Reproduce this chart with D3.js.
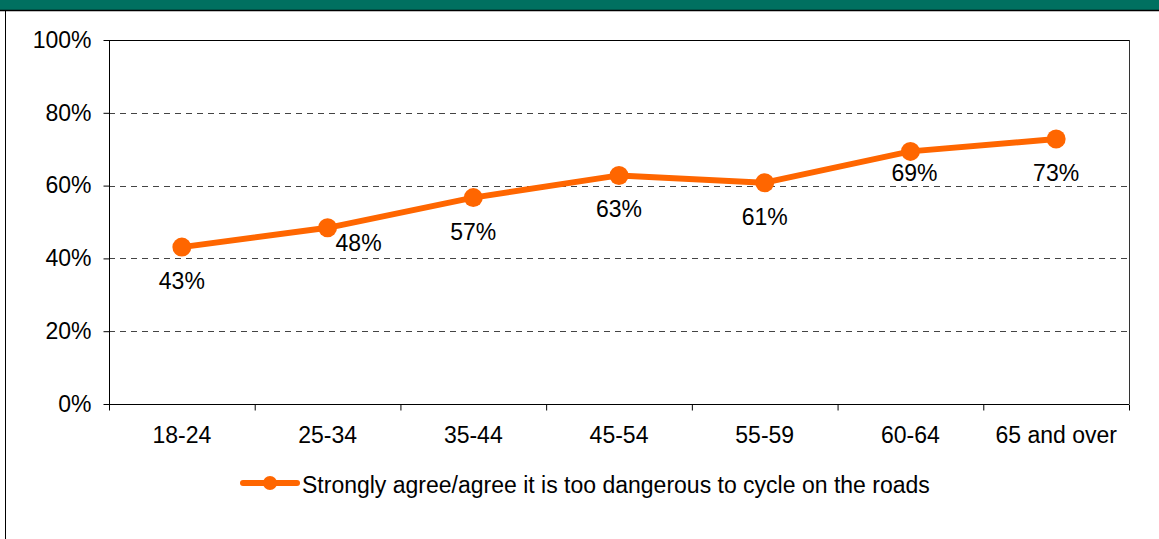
<!DOCTYPE html>
<html lang="en">
<head>
    <meta charset="UTF-8">
    <title>Too dangerous to cycle on the roads - by age</title>
    <script src="https://d3js.org/d3.v7.min.js"></script>
    <style>
        body { margin: 0; background: white; }
        svg { display: block; font-family: "Liberation Sans", Arial, sans-serif; }
        .axis path, .axis line { stroke: black; }
        .axis text { font-size: 23px; fill: black; }
        .grid line { stroke: #444; stroke-dasharray: 6,5; }
    </style>
</head>
<body>
    <svg id="chart" width="1159" height="539"></svg>

    <script>
        // chart data
        const ageGroups = ['18-24', '25-34', '35-44', '45-54', '55-59', '60-64', '65 and over'];
        const agreeValues = [43.1, 48.4, 56.7, 62.8, 60.8, 69.4, 72.8];
        const yTicks = [0, 20, 40, 60, 80, 100];
        const seriesName = 'Strongly agree/agree it is too dangerous to cycle on the roads';

        // label placement relative to each point (layout only)
        const labelOffsets = [[0, 42], [31, 23], [0, 42], [0, 42], [0, 42], [4, 30], [0, 42]];

        const orange = '#ff6600';
        const margin = {top: 40, right: 30, bottom: 135, left: 109};
        const width = 1159, height = 539;

        const svg = d3.select('#chart');

        // header band and frame
        svg.append('rect')
            .attr('x', 0).attr('y', 0)
            .attr('width', width).attr('height', 10)
            .attr('fill', '#007060');
        svg.append('line')
            .attr('x1', 0).attr('x2', width)
            .attr('y1', 10.5).attr('y2', 10.5)
            .attr('stroke', 'black').attr('stroke-width', 1.5);
        svg.append('line')
            .attr('x1', 5.5).attr('x2', 5.5)
            .attr('y1', 10).attr('y2', height)
            .attr('stroke', 'black');

        const x = d3.scaleBand()
            .domain(ageGroups)
            .range([margin.left, width - margin.right])
            .padding(0);
        const xEdge = d3.scaleLinear()
            .domain([0, ageGroups.length])
            .range([margin.left, width - margin.right]);
        const y = d3.scaleLinear()
            .domain([0, 100])
            .range([height - margin.bottom, margin.top]);

        const plotLeft = margin.left, plotRight = width - margin.right;
        const plotTop = margin.top, plotBottom = height - margin.bottom;

        // dashed gridlines
        svg.append('g')
            .attr('class', 'grid')
            .selectAll('line')
            .data(yTicks.filter(d => d > 0 && d < 100))
            .join('line')
            .attr('x1', plotLeft).attr('x2', plotRight)
            .attr('y1', d => Math.round(y(d)) + 0.5)
            .attr('y2', d => Math.round(y(d)) + 0.5);

        // plot frame top and right
        svg.append('line')
            .attr('x1', plotLeft).attr('x2', plotRight)
            .attr('y1', plotTop + 0.5).attr('y2', plotTop + 0.5)
            .attr('stroke', 'black');
        svg.append('line')
            .attr('x1', plotRight + 0.5).attr('x2', plotRight + 0.5)
            .attr('y1', plotTop).attr('y2', plotBottom)
            .attr('stroke', '#333');

        // y axis
        const yAxis = svg.append('g')
            .attr('class', 'axis')
            .attr('transform', `translate(${plotLeft + 0.5},0)`)
            .call(d3.axisLeft(y).tickValues(yTicks).tickSize(6).tickPadding(12).tickFormat(d => d + '%'));
        yAxis.select('.domain').attr('d', `M0,${plotTop}V${plotBottom}`);

        // x axis: ticks on category boundaries
        const xAxis = svg.append('g')
            .attr('class', 'axis')
            .attr('transform', `translate(0,${plotBottom + 0.5})`)
            .call(d3.axisBottom(xEdge).ticks(ageGroups.length).tickSize(6).tickFormat(''));
        xAxis.select('.domain').attr('d', `M${plotLeft},0H${plotRight}`);

        // x category labels
        const xLabels = svg.append('g')
            .attr('class', 'axis')
            .attr('transform', `translate(0,${plotBottom})`)
            .call(d3.axisBottom(x).tickSize(0).tickPadding(0));
        xLabels.select('.domain').remove();
        xLabels.selectAll('text').attr('dy', null).attr('y', 39);

        // series line and markers
        const pts = ageGroups.map((g, i) => ({g: g, v: agreeValues[i], i: i}));
        const line = d3.line()
            .x(d => x(d.g) + x.bandwidth() / 2)
            .y(d => y(d.v));

        svg.append('path')
            .datum(pts)
            .attr('fill', 'none')
            .attr('stroke', orange)
            .attr('stroke-width', 6)
            .attr('stroke-linejoin', 'round')
            .attr('d', line);

        svg.append('g')
            .selectAll('circle')
            .data(pts)
            .join('circle')
            .attr('cx', d => x(d.g) + x.bandwidth() / 2)
            .attr('cy', d => y(d.v))
            .attr('r', 9.5)
            .attr('fill', orange);

        // data labels
        svg.append('g')
            .selectAll('text')
            .data(pts)
            .join('text')
            .attr('x', d => x(d.g) + x.bandwidth() / 2 + labelOffsets[d.i][0])
            .attr('y', d => y(d.v) + labelOffsets[d.i][1])
            .attr('text-anchor', 'middle')
            .attr('font-size', 23)
            .attr('fill', 'black')
            .text(d => Math.round(d.v) + '%');

        // legend
        const legend = svg.append('g').attr('transform', 'translate(243,483)');
        legend.append('line')
            .attr('x1', 0).attr('x2', 54)
            .attr('y1', 0).attr('y2', 0)
            .attr('stroke', orange)
            .attr('stroke-width', 6)
            .attr('stroke-linecap', 'round');
        legend.append('circle')
            .attr('cx', 27).attr('cy', 0)
            .attr('r', 7)
            .attr('fill', orange);
        legend.append('text')
            .attr('x', 59).attr('y', 10)
            .attr('font-size', 23)
            .attr('fill', 'black')
            .text(seriesName);
    </script>
</body>
</html>
